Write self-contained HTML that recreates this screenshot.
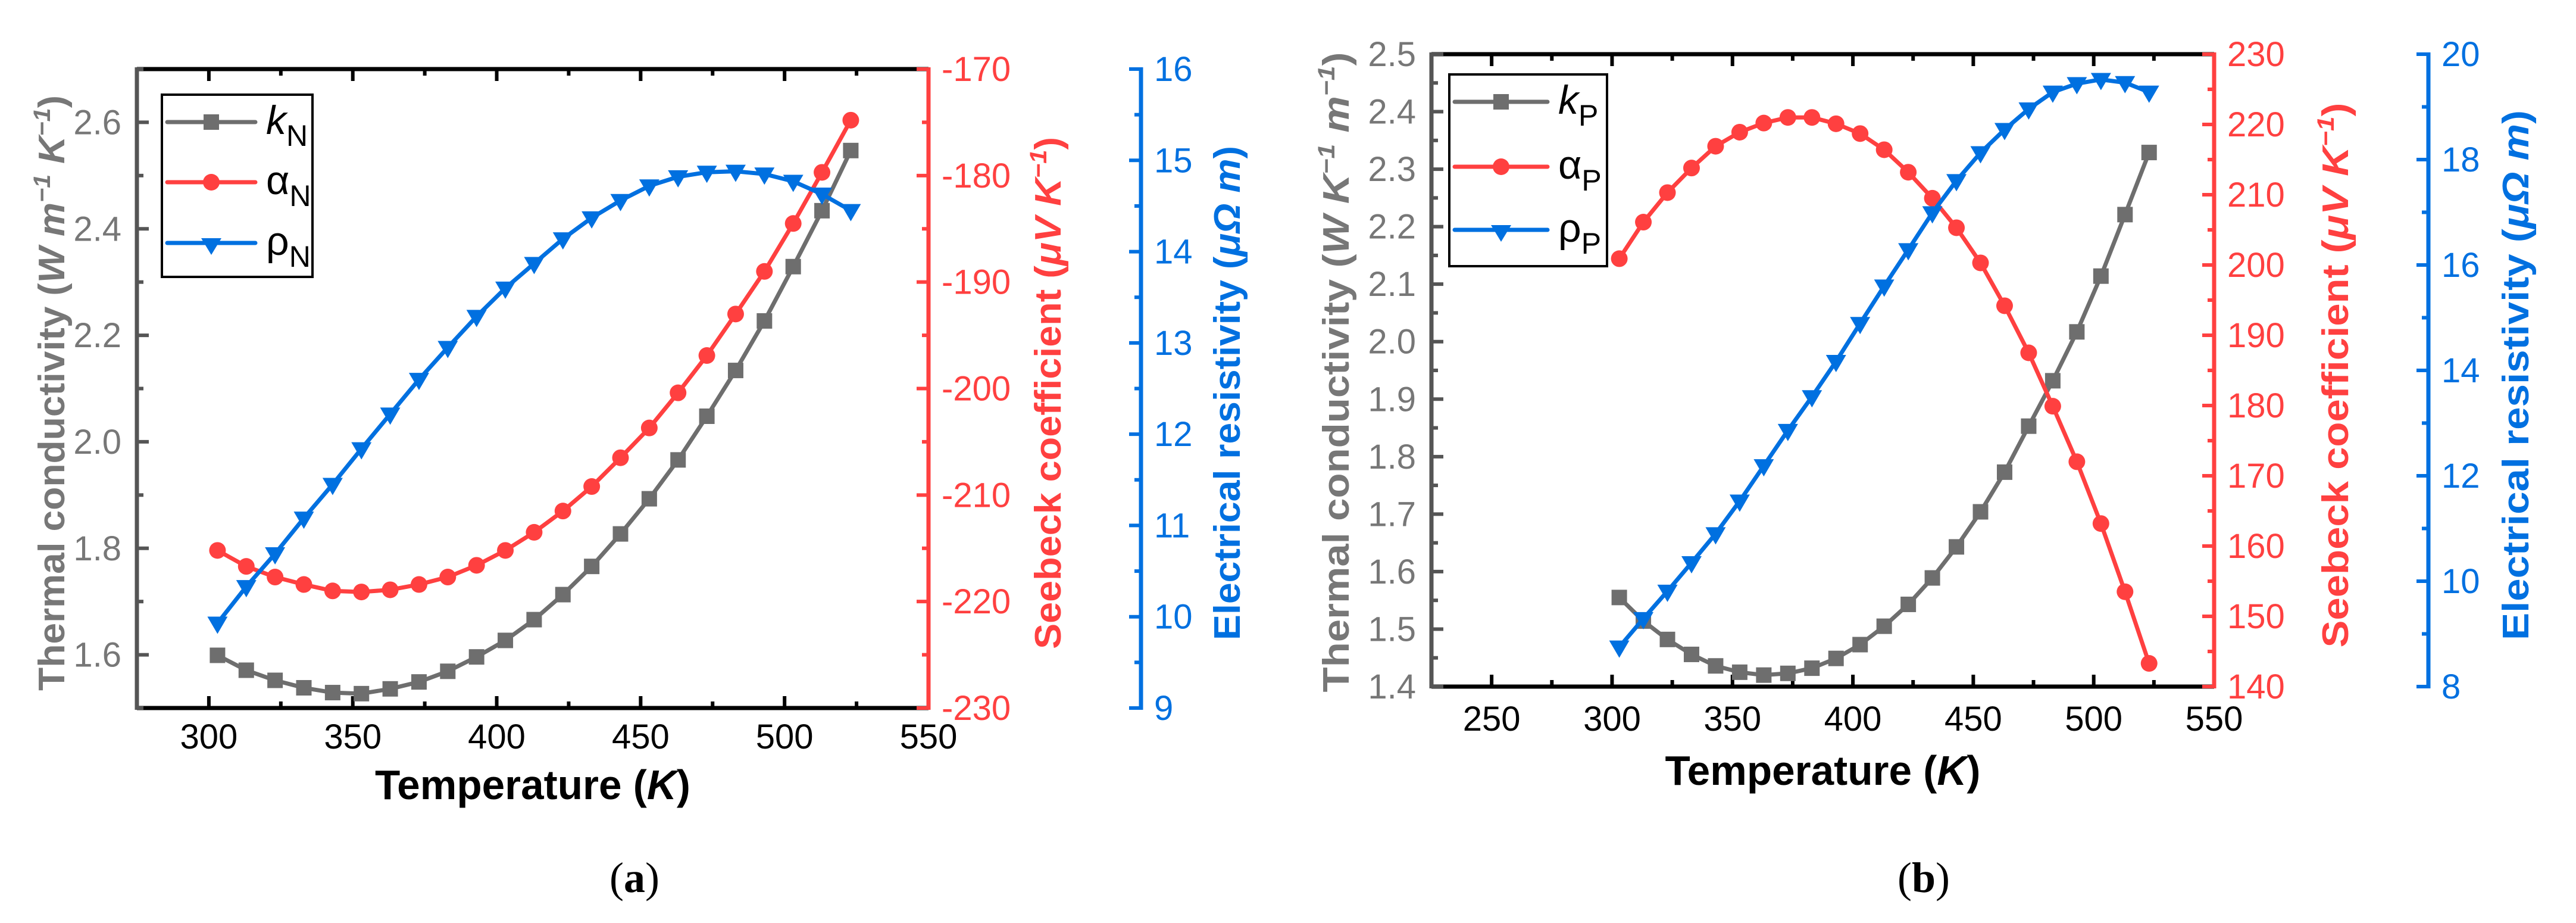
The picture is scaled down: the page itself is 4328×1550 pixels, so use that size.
<!DOCTYPE html>
<html><head><meta charset="utf-8"><style>
html,body{margin:0;padding:0;background:#fff;}
svg{display:block;}
text{font-family:"Liberation Sans",Arial,sans-serif;}
</style></head><body>
<svg id="fig" width="4328" height="1550" viewBox="0 0 4328 1550" xmlns="http://www.w3.org/2000/svg">
<rect width="4328" height="1550" fill="#fff"/>
<g id="pa"></g>
<g id="pb"></g>
</svg>
<script>
const temps = [303,313,323,333,343,353,363,373,383,393,403,413,423,433,443,453,463,473,483,493,503,513,523];
const kN = [1.599,1.571,1.552,1.538,1.529,1.527,1.536,1.549,1.569,1.596,1.627,1.666,1.713,1.766,1.827,1.893,1.966,2.048,2.134,2.227,2.329,2.434,2.547];
const alphaN = [-215.2,-216.7,-217.7,-218.4,-219.0,-219.1,-218.9,-218.4,-217.7,-216.6,-215.2,-213.5,-211.5,-209.2,-206.5,-203.7,-200.4,-196.9,-193.0,-189.0,-184.5,-179.7,-174.8];
const rhoN = [9.93,10.33,10.69,11.08,11.45,11.84,12.22,12.60,12.95,13.29,13.60,13.87,14.14,14.37,14.56,14.72,14.82,14.87,14.88,14.85,14.77,14.63,14.45];
const kP = [1.555,1.514,1.482,1.456,1.436,1.425,1.420,1.423,1.432,1.449,1.473,1.505,1.543,1.589,1.643,1.704,1.773,1.853,1.932,2.017,2.114,2.221,2.329];
const alphaP = [200.9,206.1,210.3,213.8,216.9,218.9,220.2,221.0,221.0,220.1,218.7,216.4,213.2,209.5,205.3,200.3,194.2,187.5,179.9,172.0,163.2,153.5,143.3];
const rhoP = [8.75,9.29,9.81,10.35,10.90,11.52,12.19,12.86,13.50,14.17,14.89,15.60,16.29,16.99,17.60,18.13,18.57,18.96,19.28,19.44,19.52,19.46,19.28];
const xTicksA = [300,350,400,450,500,550];
const xTicksB = [250,300,350,400,450,500,550];
const kTicksA = ["1.6","1.8","2.0","2.2","2.4","2.6"];
const kTicksB = ["1.4","1.5","1.6","1.7","1.8","1.9","2.0","2.1","2.2","2.3","2.4","2.5"];
const aTicksA = ["-230","-220","-210","-200","-190","-180","-170"];
const aTicksB = ["140","150","160","170","180","190","200","210","220","230"];
const rTicksA = ["9","10","11","12","13","14","15","16"];
const rTicksB = ["8","10","12","14","16","18","20"];

const NS="http://www.w3.org/2000/svg";
function mk(tag,attrs,parent){const e=document.createElementNS(NS,tag);for(const k in attrs)e.setAttribute(k,attrs[k]);if(parent)parent.appendChild(e);return e;}
const GRAY="#6e6e6e",AX="#555555",LBL="#777777",RED="#ff4040",BLUE="#0070e0";

function lin(d0,d1,p0,p1){return v=>p0+(v-d0)*(p1-p0)/(d1-d0);}

function panel(g,cfg){
  const {L,R,T,B,blueX}=cfg;
  const x=lin(cfg.xr[0],cfg.xr[1],L,R);
  const yk=lin(cfg.kr[0],cfg.kr[1],B,T);
  const ya=lin(cfg.ar[0],cfg.ar[1],B,T);
  const yr=lin(cfg.rr[0],cfg.rr[1],B,T);
  // x ticks
  const xt=mk('g',{},g);
  
  
  for(let v=cfg.xr[0];v<=cfg.xr[1]+0.01;v+=25){
    if(v<=cfg.xr[0]+0.01||v>=cfg.xr[1]-0.01)continue;
    const major=(v%50===0);const len=major?20:11;
    mk('line',{x1:x(v),x2:x(v),y1:B,y2:B-len,stroke:'#000','stroke-width':6},xt);
    mk('line',{x1:x(v),x2:x(v),y1:T,y2:T+len,stroke:'#000','stroke-width':6},xt);
  }
  cfg.xTicks.forEach(v=>{const t=mk('text',{x:x(v),y:cfg.xLblY,'font-size':58,'text-anchor':'middle',fill:'#000'},xt);t.textContent=String(v);
    });
  mk('line',{x1:L,x2:R,y1:B,y2:B,stroke:'#000','stroke-width':7},xt);
  mk('line',{x1:L,x2:R,y1:T,y2:T,stroke:'#000','stroke-width':7},xt);
  const xtitle=mk('text',{x:(L+R)/2,y:cfg.xTitleY,'font-size':70,'font-weight':'bold','text-anchor':'middle',textLength:530,lengthAdjust:'spacingAndGlyphs'},g);
  
  xtitle.innerHTML='Temperature (<tspan font-style="italic">K</tspan>)';
  // left axis
  const la=mk('g',{},g);
  
  for(let v=cfg.kr[0];v<=cfg.kr[1]+1e-6;v+=cfg.kMinor){
    const vv=Math.round(v*1000)/1000;const isMajor=cfg.kTicks.some(s=>Math.abs(parseFloat(s)-vv)<1e-6);
    mk('line',{x1:L,x2:L+(isMajor?20:11),y1:yk(vv),y2:yk(vv),stroke:AX,'stroke-width':6},la);
  }
  cfg.kTicks.forEach(s=>{const t=mk('text',{x:cfg.kLblX,y:yk(parseFloat(s))+20,'font-size':58,'text-anchor':'end',fill:LBL},la);t.textContent=s;
    });
  mk('line',{x1:L,x2:L,y1:T-3,y2:B+3,stroke:AX,'stroke-width':7},la);
  const lt=mk('text',{transform:`translate(${cfg.kTitleX},${cfg.kTitleY}) rotate(-90)`,'font-size':62,'font-weight':'bold','text-anchor':'middle',fill:LBL,textLength:cfg.kTitleLen,lengthAdjust:'spacingAndGlyphs'},la);
  
  lt.innerHTML=cfg.kTitle;
  // red axis
  const ra=mk('g',{},g);
  
  for(let v=cfg.ar[0];v<=cfg.ar[1]+1e-6;v+=5){
    const isMajor=(Math.abs(v)%10===0);
    mk('line',{x1:R,x2:R-(isMajor?20:11),y1:ya(v),y2:ya(v),stroke:RED,'stroke-width':6},ra);
  }
  cfg.aTicks.forEach(s=>{const t=mk('text',{x:R+22,y:ya(parseFloat(s))+20,'font-size':58,fill:RED},ra);t.textContent=s;
    });
  mk('line',{x1:R,x2:R,y1:T-3,y2:B+3,stroke:RED,'stroke-width':7},ra);
  const rt=mk('text',{transform:`translate(${cfg.aTitleX},${cfg.aTitleY}) rotate(-90)`,'font-size':62,'font-weight':'bold','text-anchor':'middle',fill:RED,textLength:cfg.aTitleLen,lengthAdjust:'spacingAndGlyphs'},ra);
  
  rt.innerHTML='Seebeck coefficient (<tspan font-style="italic">μV K</tspan><tspan font-size="40" dy="-24" font-style="italic">−1</tspan><tspan dy="24">)</tspan>';
  // blue axis
  const ba=mk('g',{},g);
  
  for(let v=cfg.rr[0];v<=cfg.rr[1]+1e-6;v+=cfg.rMinor){
    const isMajor=cfg.rTicks.some(s=>Math.abs(parseFloat(s)-v)<1e-6);
    mk('line',{x1:blueX,x2:blueX-(isMajor?20:11),y1:yr(v),y2:yr(v),stroke:BLUE,'stroke-width':6},ba);
  }
  cfg.rTicks.forEach(s=>{const t=mk('text',{x:blueX+22,y:yr(parseFloat(s))+20,'font-size':58,fill:BLUE},ba);t.textContent=s;
    });
  mk('line',{x1:blueX,x2:blueX,y1:T-3,y2:B+3,stroke:BLUE,'stroke-width':7},ba);
  const bt=mk('text',{transform:`translate(${cfg.rTitleX},${cfg.rTitleY}) rotate(-90)`,'font-size':62,'font-weight':'bold','text-anchor':'middle',fill:BLUE,textLength:cfg.rTitleLen,lengthAdjust:'spacingAndGlyphs'},ba);
  
  bt.innerHTML='Electrical resistivity (<tspan font-style="italic">μΩ m</tspan>)';
  // series
  function series(vals,ys,color,marker,name){
    const sg=mk('g',{},g);
    
    
    const pts=temps.map((t,i)=>x(t)+','+ys(vals[i])).join(' ');
    mk('polyline',{points:pts,fill:'none',stroke:color,'stroke-width':7,'stroke-linejoin':'round'},sg);
    temps.forEach((t,i)=>{const px=x(t),py=ys(vals[i]);let m;
      if(marker==='sq')m=mk('rect',{x:px-13,y:py-13,width:26,height:26,fill:color},sg);
      else if(marker==='ci')m=mk('circle',{cx:px,cy:py,r:14,fill:color},sg);
      else m=mk('polygon',{points:`${px-17},${py-11} ${px+17},${py-11} ${px},${py+18}`,fill:color},sg);
      
      
    });
  }
  series(cfg.k,yk,GRAY,'sq','k-series');
  series(cfg.a,ya,RED,'ci','alpha-series');
  series(cfg.r,yr,BLUE,'tr','rho-series');
  // legend
  const lg=mk('g',{},g);
  
  const Lg=cfg.leg;
  mk('rect',{x:Lg.x,y:Lg.y,width:Lg.w,height:Lg.h,fill:'#fff',stroke:'#000','stroke-width':4},lg);
  const items=[[GRAY,'sq','<tspan font-style="italic">k</tspan>'],[RED,'ci','α'],[BLUE,'tr','ρ']];
  items.forEach((it,i)=>{
    const ey=Lg.rows[i];const x1=Lg.x+9,x2=Lg.x+Lg.lineW;const cx=(x1+x2)/2;
    const eg=mk('g',{},lg);
    
    mk('line',{x1:x1,x2:x2,y1:ey,y2:ey,stroke:it[0],'stroke-width':7,'stroke-linecap':'round'},eg);
    if(it[1]==='sq')mk('rect',{x:cx-13,y:ey-13,width:26,height:26,fill:it[0]},eg);
    else if(it[1]==='ci')mk('circle',{cx:cx,cy:ey,r:14,fill:it[0]},eg);
    else mk('polygon',{points:`${cx-17},${ey-8} ${cx+17},${ey-8} ${cx},${ey+20}`,fill:it[0]},eg);
    const t=mk('text',{x:x2+18,y:ey+20,'font-size':68,fill:'#000'},eg);
    t.innerHTML=it[2]+'<tspan font-size="50" dy="20">'+cfg.sub+'</tspan>';
  });
  const cap=mk('text',{x:cfg.capX,y:1498,'font-size':72,'text-anchor':'middle',style:'font-family:"Liberation Serif",serif'},g);
  
  cap.innerHTML='(<tspan font-weight="bold">'+cfg.cap+'</tspan>)';
}

panel(document.getElementById('pa'),{
  L:230,R:1560,T:116,B:1189,blueX:1917,xr:[275,550],kr:[1.5,2.7],ar:[-230,-170],rr:[9,16],
  xTicks:xTicksA,kTicks:kTicksA,aTicks:aTicksA,rTicks:rTicksA,kMinor:0.1,rMinor:0.5,
  xLblY:1257,xTitleY:1342,kLblX:204,
  kTitleX:108,kTitleY:660,kTitleLen:1000,
  kTitle:'Thermal conductivity (<tspan font-style="italic">W m</tspan><tspan font-size="40" dy="-24" font-style="italic">−1</tspan><tspan dy="24" font-style="italic"> K</tspan><tspan font-size="40" dy="-24" font-style="italic">−1</tspan><tspan dy="24">)</tspan>',
  aTitleX:1782,aTitleY:660,aTitleLen:860,
  rTitleX:2083,rTitleY:660,rTitleLen:830,
  k:kN,a:alphaN,r:rhoN,sub:'N',
  leg:{x:272,y:159,w:253,h:306,rows:[205,306,408],lineW:157},
  capX:1066,cap:'a'
});
panel(document.getElementById('pb'),{
  L:2405,R:3720,T:91,B:1153,blueX:4080,xr:[225,550],kr:[1.4,2.5],ar:[140,230],rr:[8,20],
  xTicks:xTicksB,kTicks:kTicksB,aTicks:aTicksB,rTicks:rTicksB,kMinor:0.05,rMinor:1,
  xLblY:1227,xTitleY:1318,kLblX:2379,
  kTitleX:2266,kTitleY:625,kTitleLen:1075,
  kTitle:'Thermal conductivity (<tspan font-style="italic">W K</tspan><tspan font-size="40" dy="-24" font-style="italic">−1</tspan><tspan dy="24" font-style="italic"> m</tspan><tspan font-size="40" dy="-24" font-style="italic">−1</tspan><tspan dy="24">)</tspan>',
  aTitleX:3945,aTitleY:630,aTitleLen:915,
  rTitleX:4248,rTitleY:630,rTitleLen:890,
  k:kP,a:alphaP,r:rhoP,sub:'P',
  leg:{x:2435,y:125,w:265,h:322,rows:[171,280,386],lineW:165},
  capX:3232,cap:'b'
});
</script>
</body></html>
